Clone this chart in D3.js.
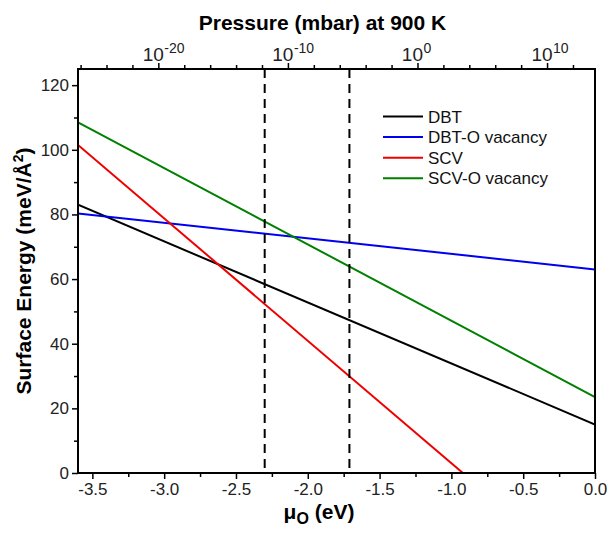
<!DOCTYPE html>
<html>
<head>
<meta charset="utf-8">
<script src="https://cdn.jsdelivr.net/npm/d3@7"></script>
<style>
  body { margin: 0; background: #fff; }
  text { font-family: "Liberation Sans", Arial, sans-serif; }
</style>
</head>
<body>
<div id="chart"></div>
<script>
// series: mu_O (eV) endpoints and surface energy (meV/A^2)
const seriesNames = ["DBT", "DBT-O vacancy", "SCV", "SCV-O vacancy"];
const seriesColors = ["#000000", "#0000ee", "#ee0000", "#008000"];
const seriesMu = [[-3.6, 0], [-3.6, 0], [-3.6, -0.92], [-3.6, 0]];
const seriesEnergy = [[83, 15], [80.3, 63], [101.5, 0], [108.5, 23.5]];

const dashedMu = [-2.3, -1.71];

const xTicks = [-3.5, -3.0, -2.5, -2.0, -1.5, -1.0, -0.5, 0.0];
const yTicks = [0, 20, 40, 60, 80, 100, 120];
const pTicks = [-20, -10, 0, 10];   // log10 of pressure (mbar)
const pDomain = [-26.2, 13.7];

const width = 607, height = 535;
const margin = {top: 69, right: 12, bottom: 62, left: 78};
const FONT = "Liberation Sans, Arial, sans-serif";

const x = d3.scaleLinear()
        .domain([-3.6, 0])
        .range([margin.left, width - margin.right]);
const y = d3.scaleLinear()
        .domain([0, 125])
        .range([height - margin.bottom, margin.top]);
const xp = d3.scaleLinear()
        .domain(pDomain)
        .range([margin.left, width - margin.right]);

const svg = d3.select("#chart")
      .append("svg")
      .attr("width", width)
      .attr("height", height);

// lines, clipped to the plot
svg.append("clipPath").attr("id", "clip")
  .append("rect")
    .attr("x", margin.left).attr("y", margin.top)
    .attr("width", width - margin.left - margin.right)
    .attr("height", height - margin.top - margin.bottom);

const line = d3.line().x(d => x(d[0])).y(d => y(d[1]));
const lineData = seriesNames.map((n, i) => seriesMu[i].map((m, j) => [m, seriesEnergy[i][j]]));

svg.append("g")
    .attr("clip-path", "url(#clip)")
  .selectAll("path")
  .data(lineData)
  .join("path")
    .attr("d", line)
    .attr("fill", "none")
    .attr("stroke", (d, i) => seriesColors[i])
    .attr("stroke-width", 2);

// dashed vertical lines
svg.append("g")
  .selectAll("line")
  .data(dashedMu)
  .join("line")
    .attr("x1", d => x(d)).attr("x2", d => x(d))
    .attr("y1", y(125)).attr("y2", y(0))
    .attr("stroke", "#000")
    .attr("stroke-width", 2)
    .attr("stroke-dasharray", "9,6");

// frame
svg.append("rect")
    .attr("x", margin.left).attr("y", margin.top)
    .attr("width", width - margin.left - margin.right)
    .attr("height", height - margin.top - margin.bottom)
    .attr("fill", "none")
    .attr("stroke", "#000")
    .attr("stroke-width", 2);

const styleAxis = g => {
  g.attr("font-size", 17).attr("font-family", FONT);
  g.select(".domain").remove();
  g.selectAll("line").attr("stroke", "#000").attr("stroke-width", 1.5);
  g.selectAll("text").attr("fill", "#222");
};

// bottom axis
svg.append("g")
    .attr("transform", `translate(0, ${height - margin.bottom})`)
    .call(d3.axisBottom(x).tickValues(d3.range(-3.25, 0, 0.5)).tickSize(4).tickFormat(""))
    .call(styleAxis);
svg.append("g")
    .attr("transform", `translate(0, ${height - margin.bottom})`)
    .call(d3.axisBottom(x).tickValues(xTicks).tickSize(6).tickPadding(4)
      .tickFormat(d => d3.format(".1f")(d).replace("−", "-")))
    .call(styleAxis);

// left axis
svg.append("g")
    .attr("transform", `translate(${margin.left}, 0)`)
    .call(d3.axisLeft(y).tickValues(d3.range(10, 121, 20)).tickSize(4).tickFormat(""))
    .call(styleAxis);
svg.append("g")
    .attr("transform", `translate(${margin.left}, 0)`)
    .call(d3.axisLeft(y).tickValues(yTicks).tickSize(6).tickPadding(3))
    .call(styleAxis);

// top axis (pressure)
svg.append("g")
    .attr("transform", `translate(0, ${margin.top})`)
    .call(d3.axisTop(xp).tickValues(d3.range(-26, 14, 2).filter(v => v % 10 !== 0)).tickSize(4).tickFormat(""))
    .call(styleAxis);
svg.append("g")
    .attr("transform", `translate(0, ${margin.top})`)
    .call(d3.axisTop(xp).tickValues(pTicks).tickSize(6).tickFormat(""))
    .call(styleAxis)
    .call(g => g.selectAll(".tick text").remove());

// top tick labels: base "10" and exponent as separate texts
const topLabels = svg.append("g")
    .attr("font-family", FONT)
    .attr("fill", "#222");
topLabels.selectAll("text.base")
  .data(pTicks)
  .join("text")
    .attr("class", "base")
    .attr("x", d => xp(d) + 5.5)
    .attr("y", 61)
    .attr("text-anchor", "end")
    .attr("font-size", 19)
    .text("10");
topLabels.selectAll("text.exp")
  .data(pTicks)
  .join("text")
    .attr("class", "exp")
    .attr("x", d => xp(d) + 6)
    .attr("y", 53)
    .attr("text-anchor", "start")
    .attr("font-size", 14)
    .text(d => String(d));

// axis titles
svg.append("text")
    .attr("x", 322.5)
    .attr("y", 29.5)
    .attr("text-anchor", "middle")
    .attr("font-size", 21)
    .attr("font-weight", "bold")
    .text("Pressure (mbar) at 900 K");

const xTitle = svg.append("text")
    .attr("x", 319)
    .attr("y", 519)
    .attr("text-anchor", "middle")
    .attr("font-size", 21)
    .attr("font-weight", "bold");
xTitle.append("tspan").text("μ");
xTitle.append("tspan").attr("dy", 5).attr("font-size", 16).text("O");
xTitle.append("tspan").attr("dy", -5).text(" (eV)");

const yTitle = svg.append("text")
    .attr("transform", `translate(31, ${(margin.top + height - margin.bottom) / 2}) rotate(-90)`)
    .attr("text-anchor", "middle")
    .attr("font-size", 21)
    .attr("font-weight", "bold");
yTitle.append("tspan").text("Surface Energy (meV/Å");
yTitle.append("tspan").attr("dy", -8).attr("font-size", 14).text("2");
yTitle.append("tspan").attr("dy", 8).text(")");

// legend
const legend = svg.append("g")
  .selectAll("g")
  .data(seriesNames)
  .join("g")
    .attr("transform", (d, i) => `translate(383, ${116.5 + i * 20.6})`);
legend.append("line")
    .attr("x1", 0).attr("x2", 40)
    .attr("stroke", (d, i) => seriesColors[i])
    .attr("stroke-width", 2);
legend.append("text")
    .attr("x", 45)
    .attr("dy", "0.36em")
    .attr("font-size", 17)
    .attr("font-family", FONT)
    .attr("fill", "#111")
    .text(d => d);
</script>
</body>
</html>
